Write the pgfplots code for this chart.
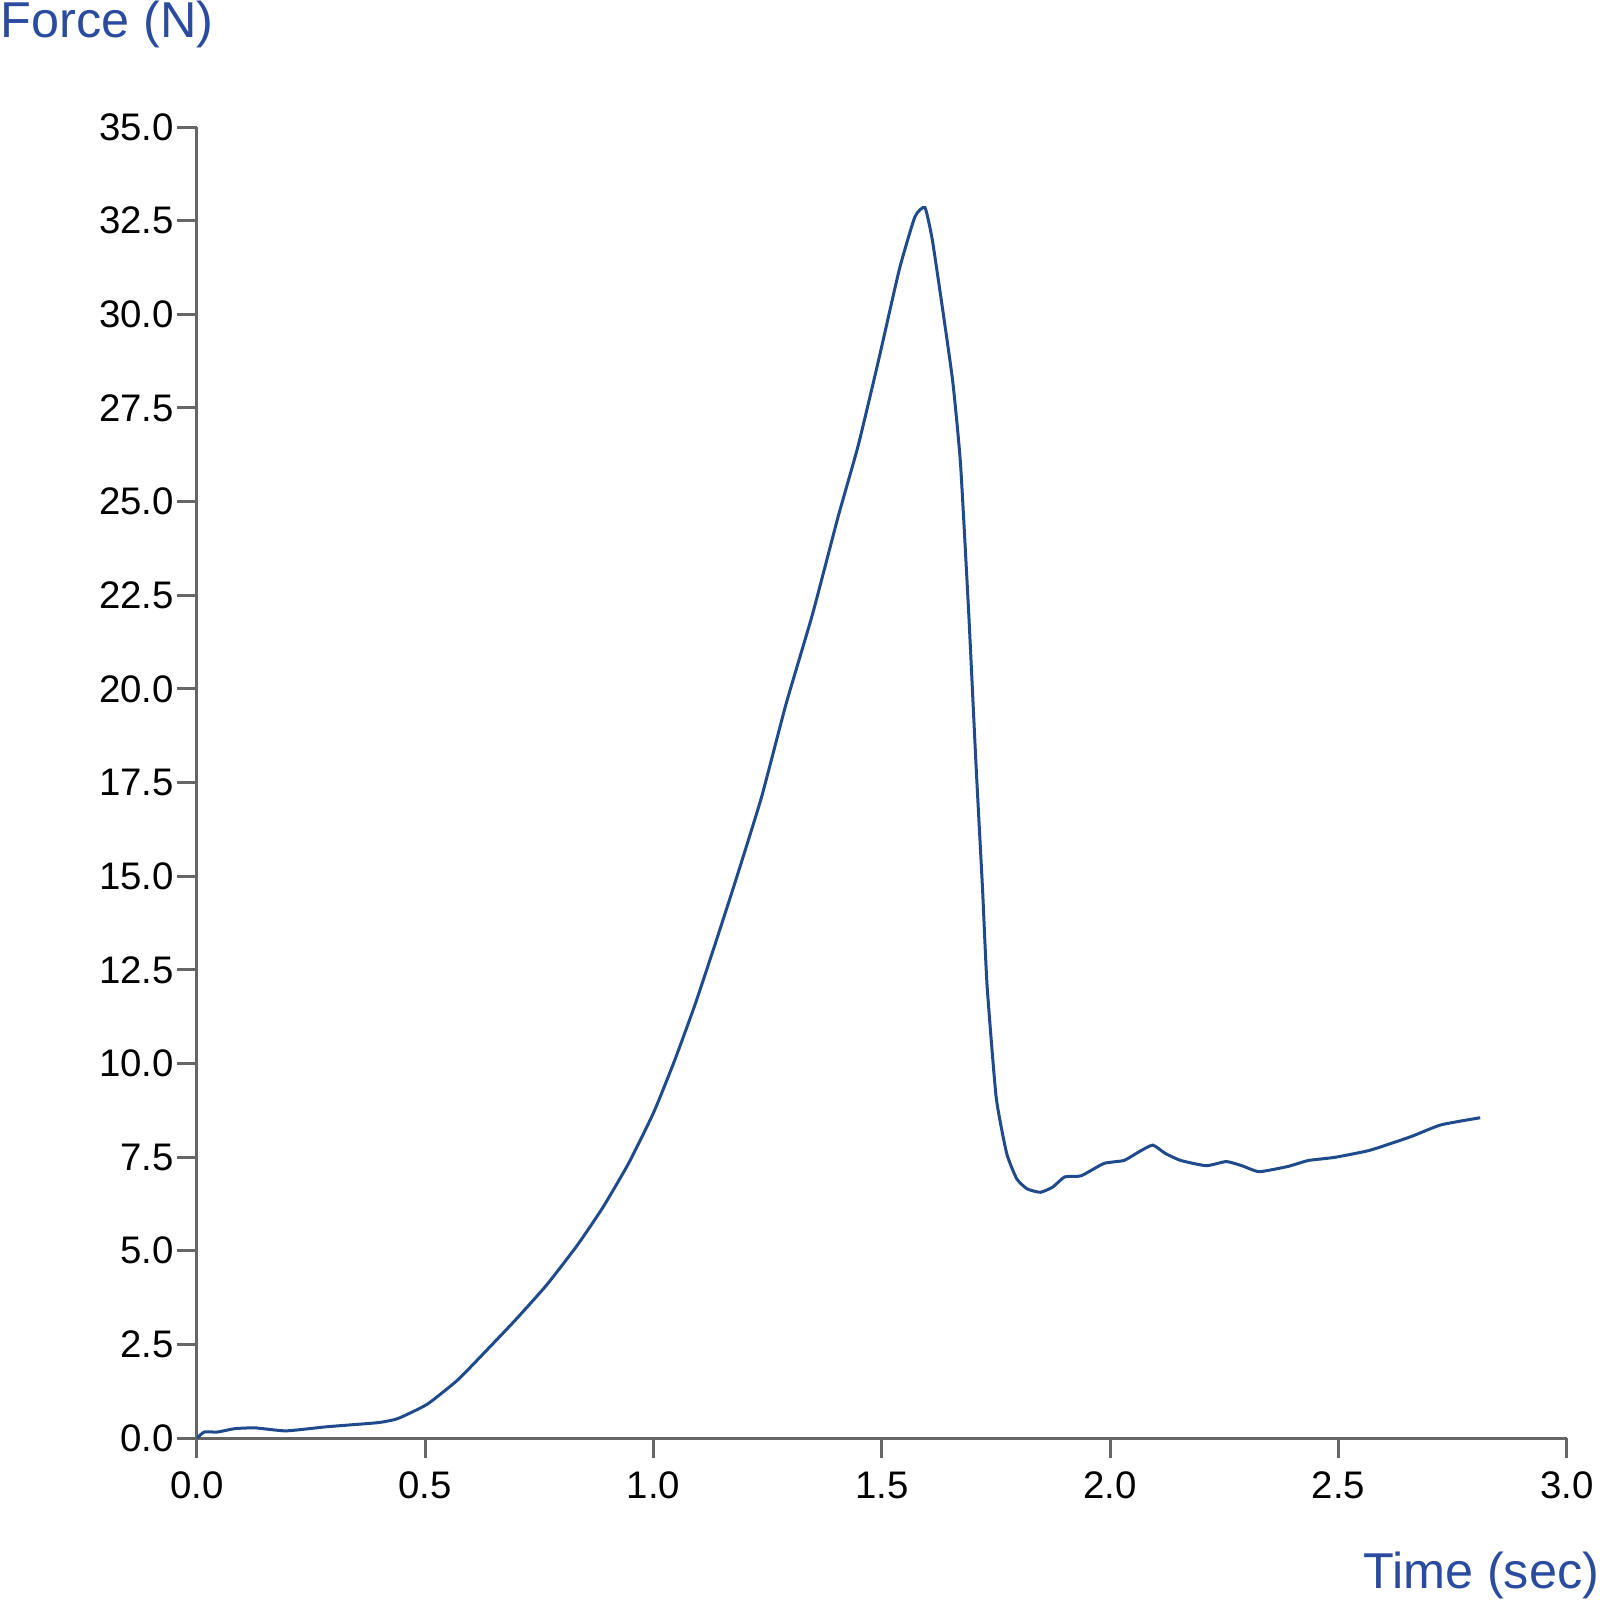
\documentclass[border=0pt]{standalone}
\usepackage{fontspec}
\setmainfont{Liberation Sans}
\usepackage{pgfplots}
\pgfplotsset{compat=1.18}
\definecolor{labblue}{HTML}{2B4C9E}
\definecolor{lineblue}{HTML}{1F4A8C}
\definecolor{axgray}{HTML}{666666}

\begin{document}
\begin{tikzpicture}
	\begin{axis}[
			scale only axis,
			width=342.5pt, height=327.75pt,
			xmin=0, xmax=3,
			ymin=0, ymax=35,
			xtick={0,0.5,...,3},
			ytick={0,2.5,...,35},
			axis lines*=left,
			axis line style={axgray, line width=0.75pt},
			tick style={axgray, line width=0.75pt},
			tick align=outside,
			major tick length=5pt,
			tick label style={font=\fontsize{9.6}{11}\selectfont},
			yticklabel style={inner sep=0pt, xshift=-0.6pt},
			/pgf/number format/.cd, fixed, fixed zerofill, precision=1, assume math mode=true,
		]
		\addplot[color=lineblue, line width=0.75pt, smooth, tension=0.3]
		coordinates {
			(0,0) (0.016,0.16) (0.045,0.16) (0.083,0.25) (0.128,0.27)
			(0.195,0.19) (0.284,0.30) (0.396,0.41) (0.44,0.52) (0.504,0.90)
			(0.571,1.55) (0.631,2.30) (0.698,3.16) (0.766,4.09) (0.833,5.15)
			(0.889,6.16) (0.945,7.33) (1.0,8.69) (1.045,10.05) (1.09,11.55)
			(1.135,13.2) (1.18,14.9) (1.236,17.1) (1.29,19.6) (1.348,22.0)
			(1.404,24.6) (1.448,26.5) (1.493,28.8) (1.538,31.2) (1.572,32.6)
			(1.594,32.85) (1.61,32.0) (1.632,30.2) (1.655,28.2) (1.672,26.0)
			(1.69,22.0) (1.706,17.95) (1.72,14.7) (1.73,12.1) (1.75,9.1)
			(1.773,7.6) (1.795,6.92) (1.818,6.65) (1.847,6.56) (1.874,6.70)
			(1.90,6.97) (1.936,7.00) (1.986,7.33) (2.03,7.41) (2.064,7.65)
			(2.093,7.82) (2.12,7.60) (2.154,7.41) (2.21,7.27) (2.254,7.38)
			(2.288,7.27) (2.326,7.11) (2.389,7.25) (2.434,7.41) (2.49,7.49)
			(2.568,7.68) (2.657,8.04) (2.724,8.36) (2.81,8.55)
		};
	\end{axis}
	\node[anchor=north west, inner sep=0pt, text=labblue, font=\fontsize{12.6}{14}\selectfont] at (-49.25pt,359.5pt) {Force (N)};
	\node[anchor=south east, inner sep=0pt, text=labblue, font=\fontsize{12.6}{14}\selectfont] at (350.75pt,-40.5pt) {Time (sec)};
	\pgfresetboundingbox
	\path[use as bounding box] (-49.25pt,-40.5pt) rectangle (350.75pt,359.5pt);
\end{tikzpicture}
\end{document}
